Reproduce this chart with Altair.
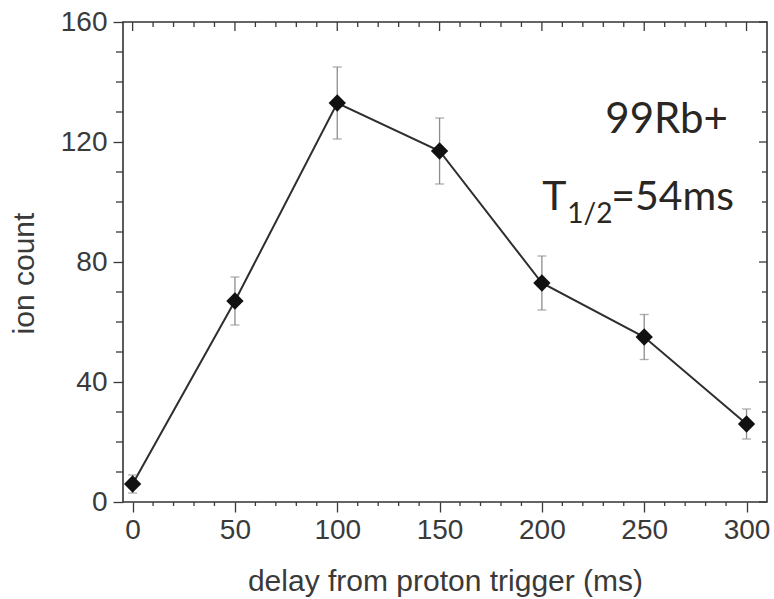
import altair as alt
import pandas as pd

# ---- data ----
delay_ms = [0, 50, 100, 150, 200, 250, 300]
ion_count = [6, 67, 133, 117, 73, 55, 26]
count_err = [3, 8, 12, 11, 9, 7.5, 5]

x_ticks = list(range(0, 301, 10))
y_ticks = list(range(0, 161, 10))
x_major = [v for v in x_ticks if v % 50 == 0]
x_minor = [v for v in x_ticks if v % 50 != 0]
y_major = [v for v in y_ticks if v % 40 == 0]
y_minor = [v for v in y_ticks if v % 40 != 0]

ann_text = ["99Rb+", "T", "1/2", "=54ms"]
ann_x = [231.0, 200.2, 212.4, 233.9]
ann_y = [123.0, 97.4, 93.0, 97.4]
ann_size = [42, 41, 28, 41]

W, H = 644, 480
X_DOM = [-4.7, 310.0]
Y_DOM = [0, 160]

df = pd.DataFrame({"delay": delay_ms, "count": ion_count, "err": count_err})
df["lo"] = df["count"] - df["err"]
df["hi"] = df["count"] + df["err"]

xs = alt.Scale(domain=X_DOM, nice=False, zero=False)
ys = alt.Scale(domain=Y_DOM, nice=False, zero=False)

AX_FONT = "Liberation Sans"
AX_COL = "#3a3a3a"

x_axis = alt.Axis(
    values=x_major,
    tickSize=10, tickColor=AX_COL, tickWidth=1.3,
    labelFont=AX_FONT, labelFontSize=28, labelColor=AX_COL, labelPadding=4,
    labelOverlap=False, labelFlush=False, labelBound=False,
    title="delay from proton trigger (ms)",
    titleFont=AX_FONT, titleFontSize=30, titleFontWeight="normal", titleColor=AX_COL,
    titleBaseline="alphabetic", titleY=88,
    domain=False, grid=False,
)
y_axis = alt.Axis(
    values=y_major,
    tickSize=10, tickColor=AX_COL, tickWidth=1.3,
    labelFont=AX_FONT, labelFontSize=28, labelColor=AX_COL, labelPadding=6,
    labelOverlap=False, labelFlush=False, labelBound=False,
    title="ion count",
    titleFont=AX_FONT, titleFontSize=30, titleFontWeight="normal", titleColor=AX_COL,
    titleBaseline="alphabetic", titleX=-90, titleY=251, titleAngle=270,
    domain=False, grid=False,
)

base = alt.Chart(df)

line = base.mark_line(color="#2e2e2e", strokeWidth=2).encode(
    x=alt.X("delay:Q", scale=xs, axis=x_axis),
    y=alt.Y("count:Q", scale=ys, axis=y_axis),
)
bars = base.mark_rule(color="#8c8c8c", strokeWidth=1.3).encode(
    x=alt.X("delay:Q"), y=alt.Y("lo:Q"), y2="hi:Q"
)
cap_lo = base.mark_tick(color="#8c8c8c", orient="horizontal", size=9, thickness=1.3).encode(
    x=alt.X("delay:Q"), y=alt.Y("lo:Q")
)
cap_hi = base.mark_tick(color="#8c8c8c", orient="horizontal", size=9, thickness=1.3).encode(
    x=alt.X("delay:Q"), y=alt.Y("hi:Q")
)
pts = base.mark_point(shape="diamond", filled=True, color="#111111", size=300, opacity=1).encode(
    x=alt.X("delay:Q"), y=alt.Y("count:Q")
)

# frame ticks: x ticks at top (inward) / bottom minor (outward),
# y ticks at right (inward) / left minor (outward)
def x_frame_ticks(vals, y0, y1):
    d = pd.DataFrame({"delay": vals})
    return alt.Chart(d).mark_rule(color=AX_COL, strokeWidth=1.3).encode(
        x=alt.X("delay:Q"), y=alt.value(y0), y2=alt.value(y1)
    )

def y_frame_ticks(vals, x0, x1):
    d = pd.DataFrame({"count": vals})
    return alt.Chart(d).mark_rule(color=AX_COL, strokeWidth=1.3).encode(
        y=alt.Y("count:Q"), x=alt.value(x0), x2=alt.value(x1)
    )

ann_df = pd.DataFrame({"t": ann_text, "delay": ann_x, "count": ann_y, "s": ann_size})
ann = alt.Chart(ann_df).mark_text(
    font="Lato", align="left", baseline="alphabetic", color="#2a2622"
).encode(
    x=alt.X("delay:Q"),
    y=alt.Y("count:Q"),
    text="t:N",
    size=alt.Size("s:Q", scale=None, legend=None),
)

chart = alt.layer(
    line, bars, cap_lo, cap_hi, pts,
    x_frame_ticks(x_major, 0, 9), x_frame_ticks(x_minor, 0, 5),
    x_frame_ticks(x_minor, H, H + 4),
    y_frame_ticks(y_major, W, W - 8), y_frame_ticks(y_minor, W, W - 5),
    y_frame_ticks(y_minor, 0, -7),
    ann,
).properties(
    width=W, height=H,
    autosize=alt.AutoSizeParams(type="none"),
    padding={"left": 123, "top": 22, "right": 7, "bottom": 97},
    background="white",
).configure_view(
    stroke="#333333", strokeWidth=1.6
).configure_axis(
    labelOverlap=False, labelBound=False, labelFlush=False
)

chart.save("out.html", embed_options={"renderer": "svg", "actions": False})
